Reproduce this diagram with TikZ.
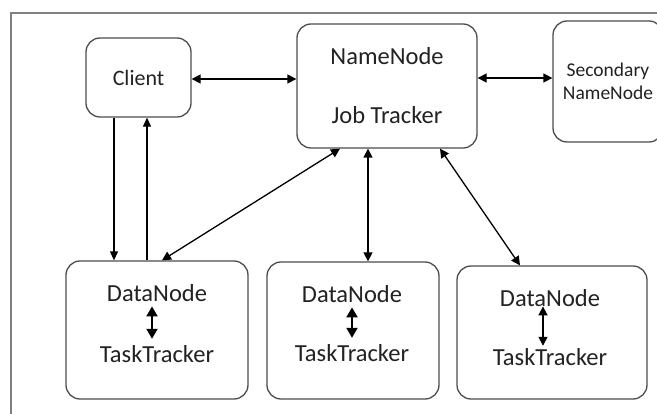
\documentclass[tikz,border=0pt]{standalone}
\usepackage{fontspec}
\setmainfont{Carlito}
\definecolor{boxline}{HTML}{4D4D4D}
\definecolor{frameline}{HTML}{808080}
\definecolor{ink}{HTML}{222222}
\usetikzlibrary{arrows.meta, positioning}

\begin{document}
\begin{tikzpicture}[x=1pt, y=-1pt,
  hbox/.style={draw=boxline, line width=1.3pt, rounded corners=14pt,
               fill=white, align=center, text=ink, inner sep=0pt},
  dtext/.style={font=\fontsize{24.5}{29}\selectfont, text=ink,
                anchor=base, inner sep=0pt},
  link/.style={line width=1.3pt,
               {Triangle[length=9pt,width=9pt]}-{Triangle[length=9pt,width=9pt]}},
  oneway/.style={line width=1.1pt, -{Triangle[length=9pt,width=8pt]}},
  inlink/.style={line width=2pt,
                 {Triangle[length=10pt,width=11pt]}-{Triangle[length=10pt,width=11pt]}},
]
\useasboundingbox (0,0) rectangle (657,414);

% outer frame
\draw[frameline, line width=1.5pt] (11,414) -- (11,13) -- (657,13);

% master side
\node[hbox, minimum width=105pt, minimum height=79pt,
      font=\fontsize{22}{26}\selectfont] (client) at (138.5,77.5) {Client};
\node[hbox, minimum width=180pt, minimum height=124pt,
      font=\fontsize{24.5}{29}\selectfont] (nn) at (387,86) {NameNode\\[30pt]Job Tracker};
\node[hbox, minimum width=110pt, minimum height=121pt,
      font=\fontsize{19.5}{23}\selectfont] (snn) at (608,81.5) {Secondary\\NameNode};

% worker boxes
\node[hbox, minimum width=182pt, minimum height=138pt] (dn1) at (157,330) {};
\node[hbox, minimum width=172pt, minimum height=137pt] (dn2) at (353,330.5) {};
\node[hbox, minimum width=190pt, minimum height=133pt] (dn3) at (552,332.5) {};

\node[dtext] (dn1a) at (157,302) {DataNode};
\node[dtext] (dn1b) at (157,363) {TaskTracker};
\node[dtext] (dn2a) at (352,303) {DataNode};
\node[dtext] (dn2b) at (352,362) {TaskTracker};
\node[dtext] (dn3a) at (550,307) {DataNode};
\node[dtext] (dn3b) at (550,366) {TaskTracker};

% inner links
\draw[inlink] ([xshift=-5pt,yshift=-4pt]dn1a.south)
  -- ([xshift=-5pt,yshift=7pt]dn1a.south |- dn1b.north);
\draw[inlink] ([yshift=-4pt]dn2a.south)
  -- ([yshift=7pt]dn2a.south |- dn2b.north);
\draw[link, line width=1.6pt] ([xshift=-7pt,yshift=1pt]dn3a.south)
  -- ([xshift=-7pt,yshift=3pt]dn3a.south |- dn3b.north);

% links
\draw[link] ([yshift=-1.5pt]client.east) -- ([yshift=-1.5pt]client.east -| nn.west);
\draw[link] ([yshift=8pt]nn.east) -- ([yshift=8pt]nn.east -| snn.west);
\draw[oneway] ([xshift=-24.5pt]client.south) -- ([xshift=-24.5pt]client.south |- dn1.north);
\draw[oneway] ([xshift=8.5pt]client.south |- dn1.north) -- ([xshift=8.5pt]client.south);
\draw[link] ([xshift=-47pt]nn.south) -- ([xshift=5pt]dn1.north);
\draw[link] ([xshift=-19pt]nn.south) -- ([xshift=-19pt]nn.south |- dn2.north);
\draw[link] ([xshift=53pt]nn.south) -- ([xshift=-32pt]dn3.north);
\end{tikzpicture}
\end{document}
